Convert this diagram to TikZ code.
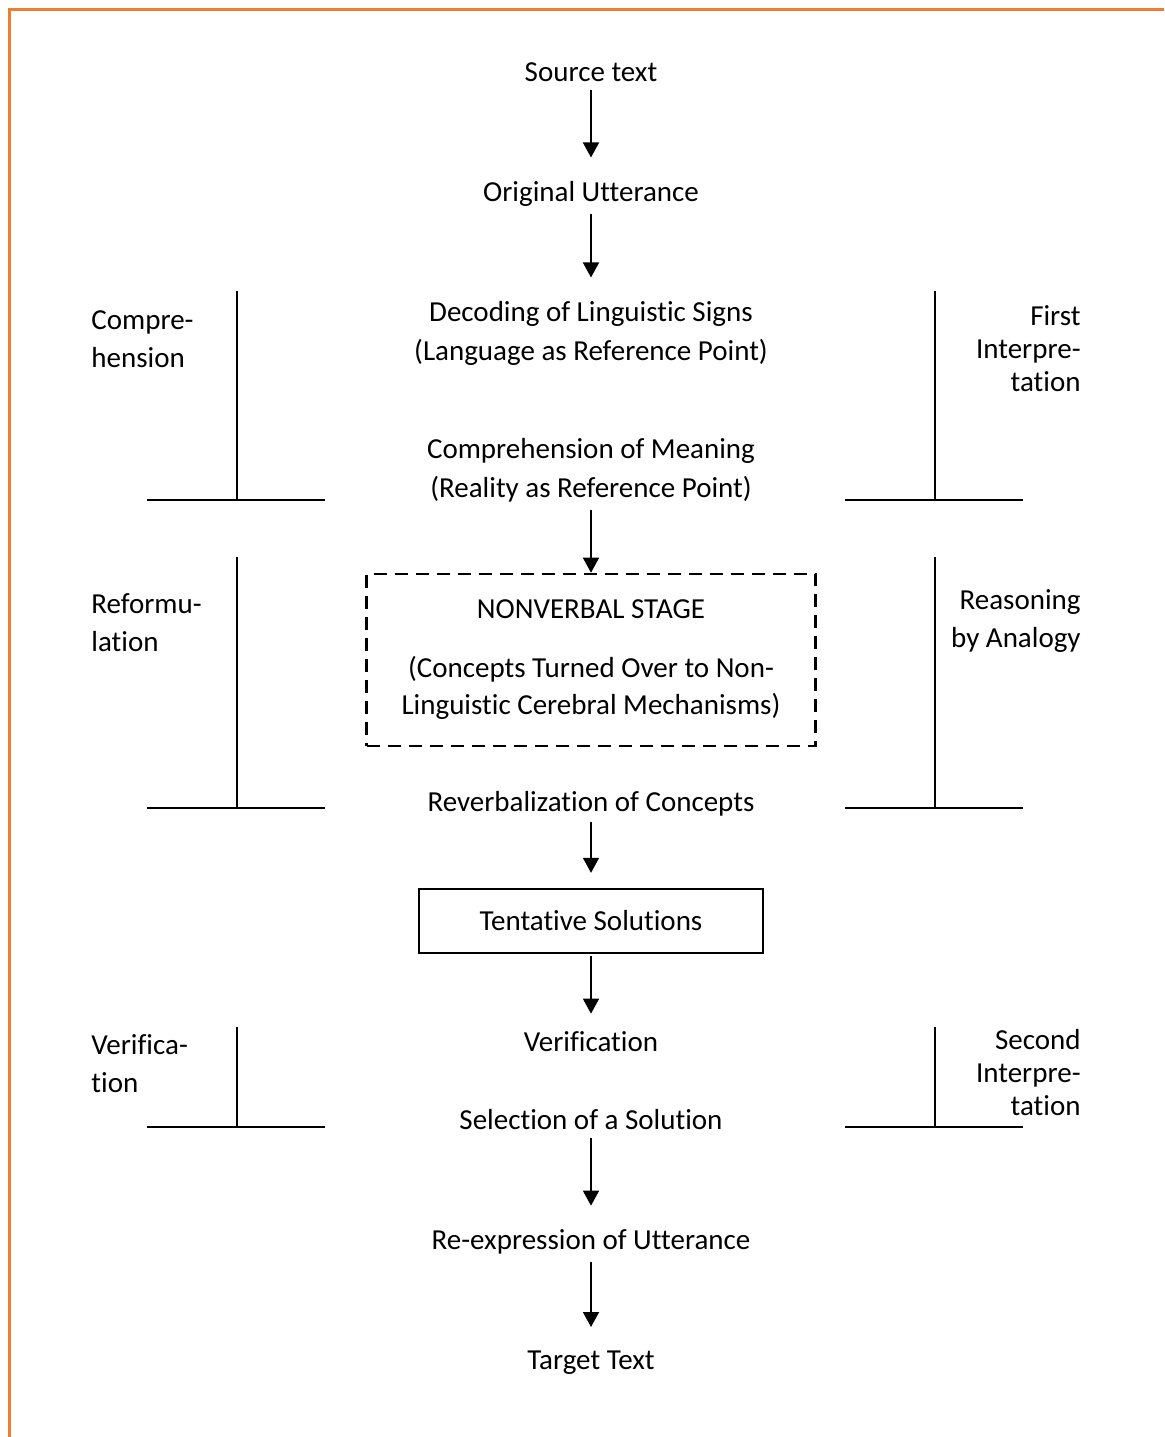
\documentclass[tikz,border=0pt]{standalone}
\usepackage{fontspec}
\setmainfont{Carlito}[Ligatures={NoCommon}]
\usepackage{tikz}
\usetikzlibrary{arrows.meta}
\definecolor{frameorange}{RGB}{237,125,49}

\begin{document}
\begin{tikzpicture}[
      x=0.5pt, y=-0.5pt,
      stage/.style={inner sep=0pt, align=center, anchor=base,
                    font=\fontsize{14.5}{19.5}\selectfont},
      solbox/.style={draw, line width=1.2pt, minimum width=172pt,
                     minimum height=32pt, inner sep=0pt,
                     font=\fontsize{14.5}{19.5}\selectfont},
      nvbox/.style={draw, line width=1.3pt, dash pattern=on 6.5pt off 4pt,
                    minimum width=224.5pt, minimum height=86pt, inner sep=0pt,
                    align=center, font=\fontsize{14.5}{18.5}\selectfont},
      leftlbl/.style={inner sep=0pt, align=left, anchor=base west,
                      font=\fontsize{14.5}{19}\selectfont},
      rightlbl/.style={inner sep=0pt, align=right, anchor=base east,
                       font=\fontsize{14.5}{16.5}\selectfont},
      arr/.style={-{Triangle[width=8pt, length=7.5pt]}, line width=0.8pt},
      brk/.style={line width=0.7pt}
    ]
    \useasboundingbox (0,0) rectangle (1164,1437);
    \draw[frameorange, line width=1.5pt] (1164,9) -- (9,9) -- (9,1437);

    % main chain (multi-line nodes sit on their last baseline)
    \node[stage] (src)      at (591,81)  {Source text};
    \node[stage] (orig)     at (591,201) {Original Utterance};
    \node[stage] (decode)   at (591,360)
      {Decoding of Linguistic Signs\\(Language as Reference Point)};
    \node[stage] (compmean) at (591,497)
      {Comprehension of Meaning\\(Reality as Reference Point)};
    \node[nvbox] (nonverbal) at (591,660)
      {NONVERBAL STAGE\\[11pt](Concepts Turned Over to Non-\\Linguistic Cerebral Mechanisms)};
    \node[stage] (reverb)   at (591,811) {Reverbalization of Concepts};
    \node[solbox] (tentative) at (591,921) {Tentative Solutions};
    \node[stage] (verif)    at (591,1051) {Verification};
    \node[stage] (select)   at (591,1129) {Selection of a Solution};
    \node[stage] (reexpr)   at (591,1249) {Re-expression of Utterance};
    \node[stage] (target)   at (591,1369) {Target Text};

    \draw[arr, shorten <=4pt, shorten >=11.5pt] (src) -- (orig);
    \draw[arr, shorten <=4pt, shorten >=11.5pt] (orig) -- (decode);
    \draw[arr, shorten <=4pt] (compmean) -- (nonverbal);
    \draw[arr, shorten <=3pt, shorten >=7.5pt] (reverb) -- (tentative);
    \draw[arr, shorten <=1pt, shorten >=8.5pt] (tentative) -- (verif);
    \draw[arr, shorten <=4pt, shorten >=11.5pt] (select) -- (reexpr);
    \draw[arr, shorten <=4pt, shorten >=11.5pt] (reexpr) -- (target);

    % side phases
    \node[leftlbl]  (compr)     at (91,367)   {Compre-\\hension};
    \node[rightlbl] (firstint)  at (1081,391) {First\\Interpre-\\tation};
    \node[leftlbl]  (reform)    at (91,651)   {Reformu-\\lation};
    \node[rightlbl, font=\fontsize{14.5}{19}\selectfont] (analogy)
      at (1081,647) {Reasoning\\by Analogy};
    \node[leftlbl]  (verifside) at (91,1092)  {Verifica-\\tion};
    \node[rightlbl] (secondint) at (1081,1115) {Second\\Interpre-\\tation};

    \draw[brk] (237,291) -- (237,500) (147,500) -- (325,500);
    \draw[brk] (935,291) -- (935,500) (845,500) -- (1023,500);
    \draw[brk] (237,557) -- (237,808) (147,808) -- (325,808);
    \draw[brk] (935,557) -- (935,808) (845,808) -- (1023,808);
    \draw[brk] (237,1027) -- (237,1127) (147,1127) -- (325,1127);
    \draw[brk] (935,1027) -- (935,1127) (845,1127) -- (1023,1127);
  \end{tikzpicture}
\end{document}
